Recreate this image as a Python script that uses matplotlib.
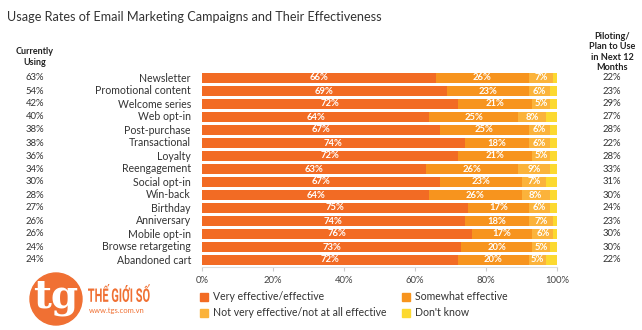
import numpy as np
import matplotlib
matplotlib.use('Agg')
import matplotlib.pyplot as plt
from matplotlib.patches import Ellipse, Rectangle, PathPatch
from matplotlib.textpath import TextPath
from matplotlib.font_manager import FontProperties
from matplotlib.transforms import Affine2D, IdentityTransform

plt.rcParams['font.family'] = ['Lato', 'DejaVu Sans']

# Data
categories = ['Newsletter', 'Promotional content', 'Welcome series', 'Web opt-in',
              'Post-purchase', 'Transactional', 'Loyalty', 'Reengagement',
              'Social opt-in', 'Win-back', 'Birthday', 'Anniversary',
              'Mobile opt-in', 'Browse retargeting', 'Abandoned cart']
currently_using = [63, 54, 42, 40, 38, 38, 36, 34, 30, 28, 27, 26, 26, 24, 24]
plan_to_use = [22, 23, 29, 27, 28, 22, 28, 33, 31, 30, 24, 23, 30, 30, 22]
very_effective = [66, 69, 72, 64, 67, 74, 72, 63, 67, 64, 75, 74, 76, 73, 72]
somewhat_effective = [26, 23, 21, 25, 25, 18, 21, 26, 23, 26, 17, 18, 17, 20, 20]
not_effective = [7, 6, 5, 8, 6, 6, 5, 9, 7, 8, 6, 7, 6, 5, 5]
dont_know = [1, 2, 2, 3, 2, 2, 2, 2, 3, 2, 2, 1, 1, 2, 3]

series = [very_effective, somewhat_effective, not_effective, dont_know]
series_names = ['Very effective/effective', 'Somewhat effective',
                'Not very effective/not at all effective', "Don't know"]
colors = ['#f26b24', '#f7941e', '#fbb33b', '#fcd930']

W, H = 642, 330
fig = plt.figure(figsize=(W / 100, H / 100), dpi=100)

def fx(px):
    return px / W

def fy(py):
    return 1 - py / H

ax = fig.add_axes([fx(202), fy(266.5), fx(557) - fx(202), (266.5 - 71.5) / H])

y = np.arange(len(categories))
left = np.zeros(len(categories))
for i, (vals, col) in enumerate(zip(series, colors)):
    vals = np.array(vals)
    ax.barh(y, vals, left=left, height=0.72, color=col, edgecolor='none')
    if i < 3:
        for yi, (l, v) in enumerate(zip(left, vals)):
            ax.text(l + v / 2, yi, f'{v}%', ha='center', va='center',
                    color='white', fontsize=6.8, fontweight='bold')
    left += vals

ax.set_xlim(0, 100)
ax.set_ylim(len(categories) - 0.5, -0.5)
ax.set_yticks(y)
ax.set_yticklabels(categories, fontsize=7.6, color='#333333')
for lbl in ax.get_yticklabels():
    lbl.set_va('center')
ax.tick_params(axis='y', length=0, pad=8)
ax.set_xticks(np.arange(0, 101, 20))
ax.set_xticklabels([f'{v}%' for v in range(0, 101, 20)], fontsize=6.8, color='#444444')
ax.tick_params(axis='x', length=3, color='#cccccc', pad=4)
for s in ['top', 'right', 'left']:
    ax.spines[s].set_visible(False)
ax.spines['bottom'].set_color('#dddddd')

# Title
fig.text(fx(7), fy(17), 'Usage Rates of Email Marketing Campaigns and Their Effectiveness',
         fontsize=9.1, color='#333333', va='center', ha='left')

# Side columns
fig.text(fx(35), fy(57), 'Currently\nUsing', ha='center', va='center',
         fontsize=6.5, fontweight='bold', color='#222222', linespacing=1.3)
fig.text(fx(612), fy(52), 'Piloting/\nPlan to Use\nin Next 12\nMonths', ha='center',
         va='center', fontsize=6.6, fontweight='bold', color='#222222', linespacing=1.2)
for i, (cu, pu) in enumerate(zip(currently_using, plan_to_use)):
    yy = ax.transData.transform((0, i))[1] / H
    fig.text(fx(35), yy, f'{cu}%', ha='center', va='center', fontsize=6.8, color='#333333')
    fig.text(fx(612), yy, f'{pu}%', ha='center', va='center', fontsize=6.8, color='#333333')

# Legend
leg_pos = [(200, 297), (402, 297), (200, 313), (402, 313)]
for (lx, ly), name, col in zip(leg_pos, series_names, colors):
    fig.patches.append(Rectangle((fx(lx), fy(ly + 4)), 8 / W, 8 / H, color=col,
                                 transform=fig.transFigure, figure=fig))
    fig.text(fx(lx + 13), fy(ly), name, ha='left', va='center', fontsize=7.6, color='#333333')

# Logo
logo_col = '#f07033'
fig.patches.append(Ellipse((fx(56), fy(299)), 52 / W, 52 / H, color=logo_col,
                           transform=fig.transFigure, figure=fig))
fig.text(fx(56), fy(297), 'tg', ha='center', va='center', fontsize=28,
         family='DejaVu Serif', fontweight='bold', color='white')

# condensed brand name, squeezed into its box (pixel coords)
tp = TextPath((0, 0), 'THẾ GIỚI SỐ', size=10,
              prop=FontProperties(family='Roboto', weight='bold'))
ext = tp.get_extents()
bx0, bx1, by_top, by_bot = 88, 150, 284, 302
sx = (bx1 - bx0) / ext.width
sy = (by_bot - by_top) / ext.height
tr = (Affine2D().translate(-ext.x0, -ext.y0).scale(sx, sy)
      .translate(bx0, H - by_bot) + IdentityTransform())
fig.patches.append(PathPatch(tp, transform=tr, color=logo_col, lw=0, figure=fig))
fig.text(fx(89), fy(311), 'www.tgs.com.vn', ha='left', va='center', fontsize=5.5,
         color=logo_col)

fig.savefig('out.png', dpi=100)
